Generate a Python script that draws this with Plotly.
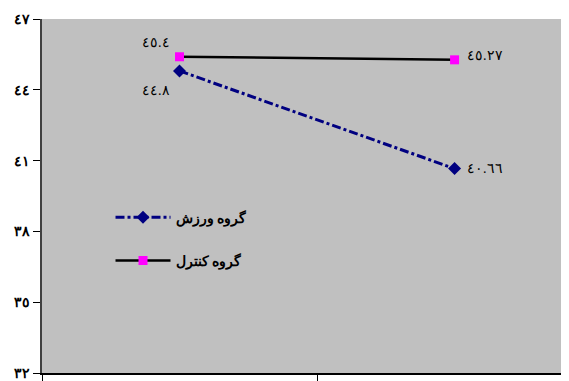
import plotly.graph_objects as go

# two measurement points (no category labels shown on the axis)
positions = [0.5, 1.5]
exercise_vals = [44.8, 40.66]
control_vals = [45.4, 45.27]
exercise_labels = ["٤٤.٨", "٤٠.٦٦"]
control_labels = ["٤٥.٤", "٤٥.٢٧"]
y_ticks = [32, 35, 38, 41, 44, 47]
y_tick_text = ["٣٢", "٣٥", "٣٨", "٤١", "٤٤", "٤٧"]

font_family = "Liberation Serif, DejaVu Serif, serif"

fig = go.Figure()
fig.add_trace(
    go.Scatter(
        x=positions,
        y=exercise_vals,
        name="گروه ورزش",
        legendgroup="ex",
        mode="lines+markers",
        line=dict(color="#000080", width=3, dash="dashdot"),
        marker=dict(symbol="diamond", size=10, color="#000080"),
    )
)
fig.add_trace(
    go.Scatter(
        x=positions,
        y=control_vals,
        name="گروه کنترل",
        legendgroup="ctl",
        mode="lines+markers",
        line=dict(color="black", width=2.5),
        marker=dict(symbol="square", size=9, color="#FF00FF"),
    )
)

# data labels, offset from each point like the original
label_offsets_ex = [(-24, 20), (30, 0)]
label_offsets_ctl = [(-24, -14), (30, -4)]
for xs, ys, labels, offsets in [
    (positions, exercise_vals, exercise_labels, label_offsets_ex),
    (positions, control_vals, control_labels, label_offsets_ctl),
]:
    for xv, yv, lab, (dx, dy) in zip(xs, ys, labels, offsets):
        fig.add_annotation(
            x=xv,
            y=yv,
            text=lab,
            showarrow=False,
            xshift=dx,
            yshift=-dy,
            font=dict(size=14, color="black", family=font_family),
        )

fig.update_layout(
    width=561,
    height=373,
    margin=dict(l=34, r=0, t=11, b=8),
    paper_bgcolor="white",
    plot_bgcolor="#C0C0C0",
    font=dict(family=font_family, size=13, color="black"),
    showlegend=True,
    legend=dict(
        x=0.13,
        y=0.484,
        xanchor="left",
        yanchor="top",
        bgcolor="rgba(0,0,0,0)",
        font=dict(size=14, family=font_family, weight="bold"),
        itemwidth=55,
        traceorder="grouped",
        tracegroupgap=22,
    ),
)
fig.update_xaxes(
    range=[0, 1.916],
    tickvals=[0, 1],
    ticktext=["", ""],
    ticks="outside",
    ticklen=7,
    tickcolor="black",
    showgrid=False,
    zeroline=False,
    showline=True,
    linecolor="black",
    linewidth=1.5,
)
fig.update_yaxes(
    range=[32, 47],
    tickvals=y_ticks,
    ticktext=y_tick_text,
    ticks="outside",
    ticklen=7,
    tickcolor="black",
    tickfont=dict(size=14, weight="bold"),
    showgrid=False,
    zeroline=False,
    showline=True,
    linecolor="#404040",
    linewidth=1.5,
)

fig.write_html("out.html")
